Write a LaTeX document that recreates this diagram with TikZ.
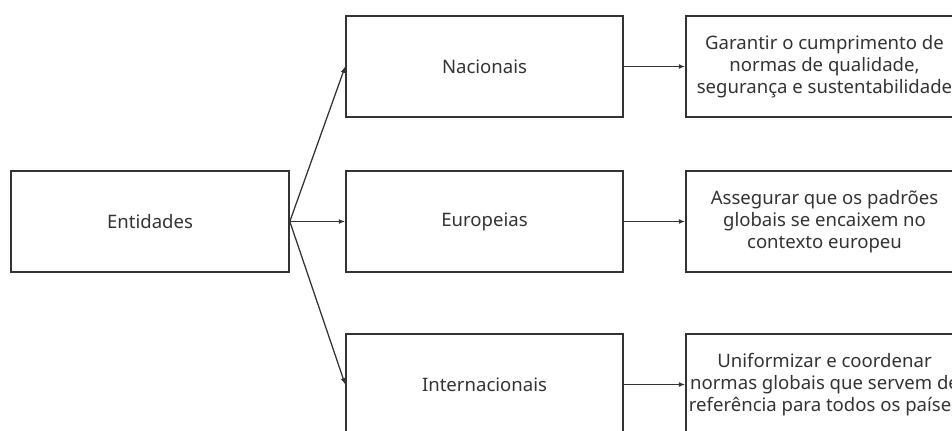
\documentclass[tikz,border=0pt]{standalone}
\usepackage{fontspec}
\setmainfont{Noto Sans}
\usetikzlibrary{arrows.meta}

\definecolor{inkgrey}{HTML}{333333}

\begin{document}
\begin{tikzpicture}[
    x=0.025cm, y=-0.025cm,
    every node/.style={font=\fontsize{13.2}{15.8}\selectfont, text=inkgrey},
    box/.style={draw=inkgrey, line width=1.1pt, minimum height=2.525cm, align=center, inner sep=0pt},
    midbox/.style={box, minimum width=6.925cm},
    goalbox/.style={box, minimum width=6.925cm},
    link/.style={-{Latex[length=4.5pt, width=3.5pt]}, draw=inkgrey, line width=0.9pt},
]

% === Frame ===
\useasboundingbox (0,0) rectangle (952,430);
\clip (0,0) rectangle (952,430);

% === Root ===
\node[box, minimum width=6.95cm] (entidades) at (150,221.5) {Entidades};

% === Levels ===
\node[midbox] (nacionais) at (484.5,66.5) {Nacionais};
\node[midbox] (europeias) at (484.5,221.5) {Europeias};
\node[midbox] (internacionais) at (484.5,384.5) {Internacionais};

% === Goals ===
\node[goalbox] (garantir) at (824.5,66.5) {Garantir o cumprimento de\\normas de qualidade,\\segurança e sustentabilidade};
\node[goalbox] (assegurar) at (824.5,221.5) {Assegurar que os padrões\\globais se encaixem no\\contexto europeu};
\node[goalbox] (uniformizar) at (824.5,384.5) {Uniformizar e coordenar\\normas globais que servem de\\referência para todos os países};

% === Connectors ===
\draw[link] (entidades.east) -- (nacionais.west);
\draw[link] (entidades.east) -- (europeias.west);
\draw[link] (entidades.east) -- (internacionais.west);
\draw[link] (nacionais) -- (garantir);
\draw[link] (europeias) -- (assegurar);
\draw[link] (internacionais) -- (uniformizar);

\end{tikzpicture}
\end{document}
